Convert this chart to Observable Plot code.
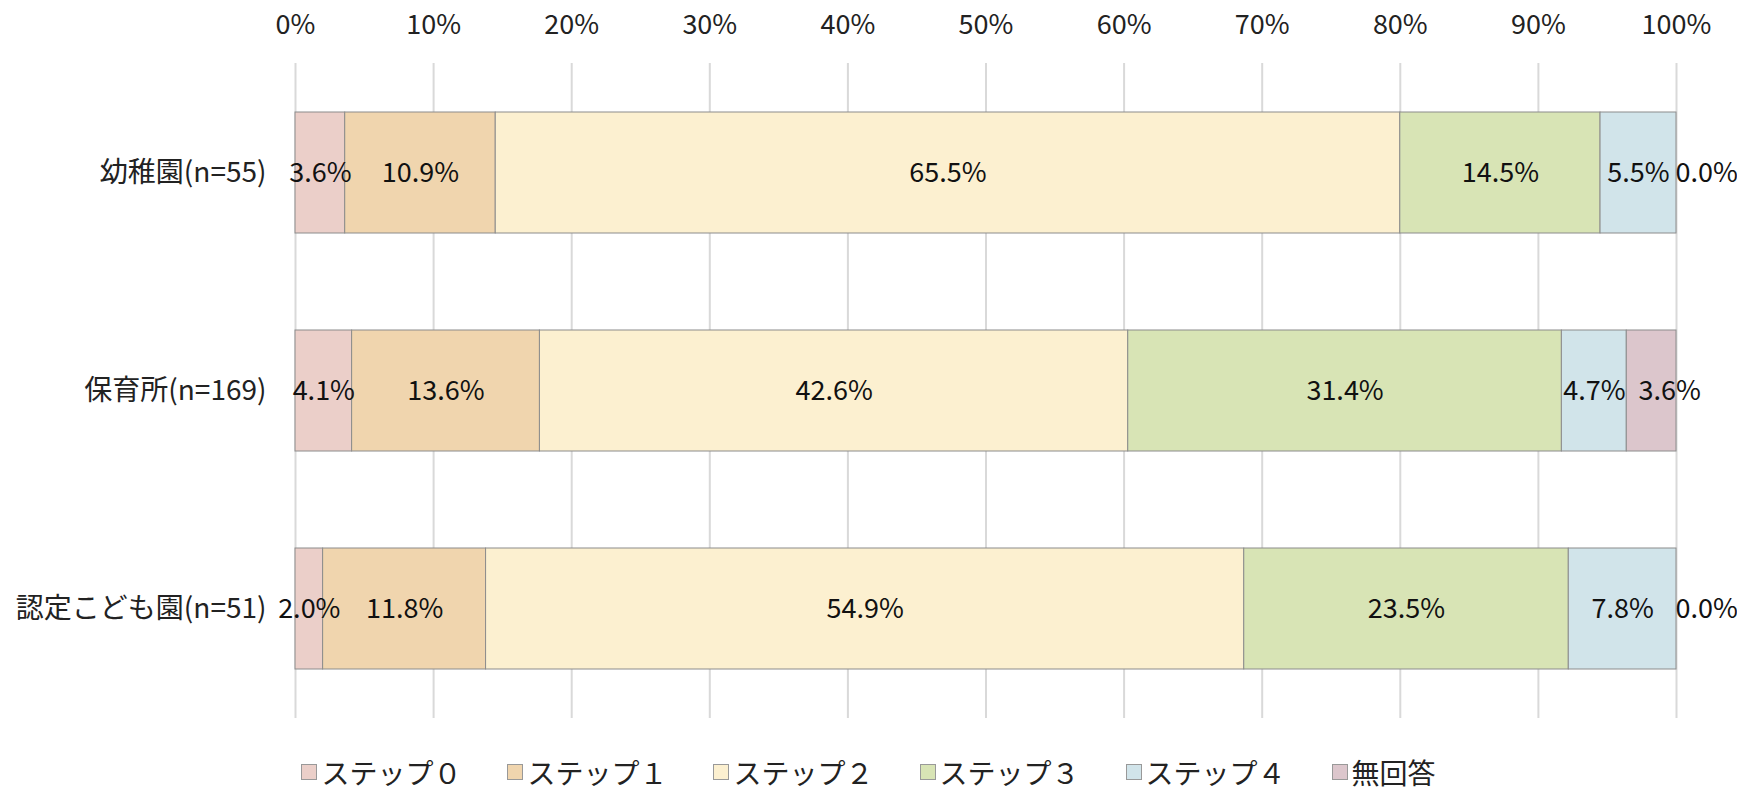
<!DOCTYPE html>
<html>
<head>
<meta charset="utf-8">
<script src="https://cdn.jsdelivr.net/npm/d3@7"></script>
<script src="https://cdn.jsdelivr.net/npm/@observablehq/plot@0.6"></script>
<style>
  body { margin: 0; background: #fff; font-family: 'Noto Sans CJK JP', 'Noto Sans', sans-serif; overflow: hidden; }
  #chart svg { display: block; }
  #legend { display: flex; justify-content: center; gap: 46px; padding-top: 17px; font-size: 28px; line-height: 1.1; color: #222; }
  #legend .item { display: flex; align-items: center; gap: 4px; }
  #legend .sw { width: 16px; height: 16px; border: 1px solid #999; box-sizing: border-box; }
</style>
</head>
<body>
<div id="chart"></div>
<div id="legend"></div>
<script>
const categories = ["幼稚園(n=55)", "保育所(n=169)", "認定こども園(n=51)"];
const series = ["ステップ０", "ステップ１", "ステップ２", "ステップ３", "ステップ４", "無回答"];
const colors = ["#ebcfc9", "#f0d5ae", "#fcf0d0", "#d8e4b5", "#d1e4ea", "#dcc6cc"];
const values = [
  [3.6, 10.9, 65.5, 14.5, 5.5, 0.0],
  [4.1, 13.6, 42.6, 31.4, 4.7, 3.6],
  [2.0, 11.8, 54.9, 23.5, 7.8, 0.0]
];
const xTicks = [0, 10, 20, 30, 40, 50, 60, 70, 80, 90, 100];

const rows = [];
categories.forEach((cat, i) => {
  let acc = 0;
  series.forEach((s, j) => {
    const v = values[i][j];
    rows.push({cat, series: s, value: v, x1: acc, x2: acc + v, mid: acc + v / 2, last: j === series.length - 1});
    acc += v;
  });
});

const fmt = v => v.toFixed(1) + "%";
const lastZero = rows.filter(d => d.last && d.value === 0);
const lastNonZero = rows.filter(d => d.last && d.value > 0);
const normal = rows.filter(d => !d.last);

const chart = Plot.plot({
  width: 1737,
  height: 740,
  marginTop: 63,
  marginBottom: 22,
  marginLeft: 295,
  marginRight: 61,
  style: {fontFamily: "'Noto Sans CJK JP', 'Noto Sans', sans-serif", fontSize: "27px", color: "#222", background: "#fff"},
  x: {domain: [0, 100], ticks: xTicks, tickFormat: d => d + "%"},
  y: {domain: categories, paddingInner: 0.445, paddingOuter: 0.2225},
  color: {domain: series, range: colors},
  marks: [
    Plot.gridX(xTicks, {stroke: "#d9d9d9", strokeOpacity: 1, strokeWidth: 2}),
    Plot.axisX({anchor: "top", ticks: xTicks, tickSize: 0, tickPadding: 30, tickFormat: d => d + "%", label: null, fontSize: 27}),
    Plot.axisY({tickSize: 0, tickPadding: 29, label: null, fontSize: 28}),
    Plot.barX(rows, {x1: "x1", x2: "x2", y: "cat", fill: "series", stroke: "#8c8c8c", strokeWidth: 1}),
    Plot.text(normal, {x: "mid", y: "cat", text: d => fmt(d.value), fontSize: 27, fill: "#111"}),
    Plot.text(lastNonZero, {x: "mid", y: "cat", text: d => fmt(d.value), fontSize: 27, fill: "#111", dx: 18}),
    Plot.text(lastZero, {x: "x1", y: "cat", text: d => fmt(d.value), fontSize: 27, fill: "#111", textAnchor: "start", dx: -1})
  ]
});
document.getElementById("chart").appendChild(chart);

const legend = document.getElementById("legend");
series.forEach((s, i) => {
  const item = document.createElement("div");
  item.className = "item";
  const sw = document.createElement("div");
  sw.className = "sw";
  sw.style.background = colors[i];
  const t = document.createElement("span");
  t.textContent = s;
  item.appendChild(sw);
  item.appendChild(t);
  legend.appendChild(item);
});
</script>
</body>
</html>
